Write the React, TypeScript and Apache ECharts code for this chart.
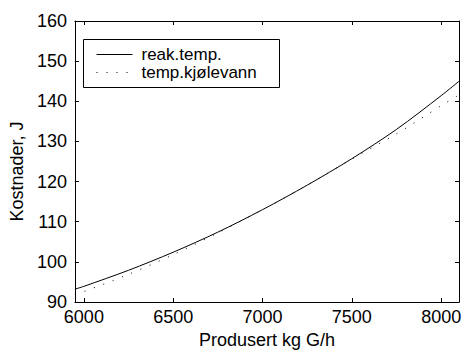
import React, { useEffect, useRef } from "react";
import * as echarts from "echarts";

// Production rate (kg G/h) at which the costs are sampled
const xValues = [5950, 6000, 6250, 6500, 6750, 7000, 7250, 7500, 7750, 8000, 8100];
// Costs when the reactor temperature is the control variable
const reakTemp = [93.2, 93.9, 97.9, 102.4, 107.4, 113.0, 119.1, 125.7, 133.0, 141.4, 145.0];
// Costs when the cooling-water temperature is the control variable
const tempKjolevann = [92.0, 92.6, 96.9, 101.8, 107.2, 113.0, 119.1, 125.6, 131.9, 138.9, 141.6];

const seriesNames = ["reak.temp.", "temp.kjølevann"];
const xTicks = [6000, 6500, 7000, 7500, 8000];
const xRange = [5950, 8100];
const yRange = [90, 160];
const yStep = 10;

const FONT = "Liberation Sans, Arial, Helvetica, sans-serif";
const FONT_SIZE = 18;
const LEGEND_FONT_SIZE = 17;

export default function App() {
  const ref = useRef<HTMLDivElement | null>(null);

  useEffect(() => {
    if (!ref.current) return;
    const chart = echarts.init(ref.current, undefined, { renderer: "svg" });

    const toPairs = (ys: number[]) => xValues.map((x, i) => [x, ys[i]]);

    const tick = { show: true, inside: true, length: 4, lineStyle: { color: "#000", width: 1 } };
    const line = { show: true, onZero: false, lineStyle: { color: "#000", width: 1 } };
    const label = { color: "#000", fontSize: FONT_SIZE, fontFamily: FONT };

    chart.setOption({
      animation: false,
      backgroundColor: "#fff",
      grid: { left: 71, right: 4, top: 21, bottom: 45, containLabel: false },
      xAxis: [
        {
          type: "value",
          position: "bottom",
          min: xRange[0],
          max: xRange[1],
          axisLine: line,
          axisTick: { ...tick, customValues: xTicks },
          axisLabel: {
            ...label,
            margin: 6,
            customValues: xTicks,
            formatter: (v: number) => String(v),
          },
          splitLine: { show: false },
          name: "Produsert kg G/h",
          nameLocation: "middle",
          nameGap: 29,
          nameTextStyle: label,
        },
        {
          type: "value",
          position: "top",
          min: xRange[0],
          max: xRange[1],
          axisLine: line,
          axisTick: { ...tick, customValues: xTicks },
          axisLabel: { show: false, customValues: xTicks },
          splitLine: { show: false },
        },
      ],
      yAxis: [
        {
          type: "value",
          position: "left",
          min: yRange[0],
          max: yRange[1],
          interval: yStep,
          axisLine: line,
          axisTick: tick,
          axisLabel: { ...label, margin: 8 },
          splitLine: { show: false },
          name: "Kostnader, J",
          nameLocation: "middle",
          nameGap: 44,
          nameTextStyle: { ...label, padding: [0, 20, 0, 0] },
        },
        {
          type: "value",
          position: "right",
          min: yRange[0],
          max: yRange[1],
          interval: yStep,
          axisLine: line,
          axisTick: tick,
          axisLabel: { show: false },
          splitLine: { show: false },
        },
      ],
      series: [
        {
          name: seriesNames[0],
          type: "line",
          data: toPairs(reakTemp),
          smooth: 0.3,
          showSymbol: false,
          lineStyle: { color: "#000", width: 1 },
        },
        {
          name: seriesNames[1],
          type: "line",
          data: toPairs(tempKjolevann),
          smooth: 0.3,
          showSymbol: false,
          lineStyle: { color: "#000", width: 1, type: [1, 9] },
        },
      ],
      graphic: [
        {
          type: "group",
          left: 83,
          top: 39,
          children: [
            {
              type: "rect",
              shape: { x: 0, y: 0, width: 196, height: 48 },
              style: { fill: "#fff", stroke: "#000", lineWidth: 1 },
            },
            {
              type: "line",
              shape: { x1: 13, y1: 15, x2: 49, y2: 15 },
              style: { stroke: "#000", lineWidth: 1 },
            },
            {
              type: "line",
              shape: { x1: 13, y1: 33, x2: 49, y2: 33 },
              style: { stroke: "#000", lineWidth: 1, lineDash: [1, 9] },
            },
            {
              type: "text",
              x: 58,
              y: 15,
              style: {
                text: seriesNames[0],
                fill: "#000",
                font: `${LEGEND_FONT_SIZE}px ${FONT}`,
                verticalAlign: "middle",
                align: "left",
              },
            },
            {
              type: "text",
              x: 58,
              y: 33,
              style: {
                text: seriesNames[1],
                fill: "#000",
                font: `${LEGEND_FONT_SIZE}px ${FONT}`,
                verticalAlign: "middle",
                align: "left",
              },
            },
          ],
        },
      ],
    });

    return () => chart.dispose();
  }, []);

  return (
    <div
      ref={ref}
      style={{ position: "fixed", left: 0, top: 0, width: 464, height: 354 }}
    />
  );
}
